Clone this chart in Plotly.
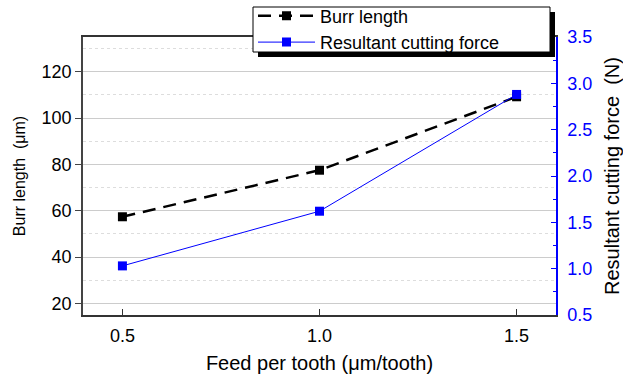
import plotly.graph_objects as go

# Feed per tooth (µm/tooth)
feed = [0.5, 1.0, 1.5]
# Burr length (µm)
burr_length = [57.4, 77.5, 109.2]
# Resultant cutting force (N)
cutting_force = [1.03, 1.62, 2.88]

x_ticks = [0.5, 1.0, 1.5]
y_ticks = [20, 40, 60, 80, 100, 120]
y2_ticks = [0.5, 1.0, 1.5, 2.0, 2.5, 3.0, 3.5]

FONT = "Liberation Sans, Arial, sans-serif"
W, H = 623, 374
L, R, T, B = 83, 67, 37, 59

fig = go.Figure()
fig.add_trace(go.Scatter(
    x=feed, y=burr_length, name="Burr length", mode="lines+markers",
    line=dict(color="black", width=2.5, dash="13px,8px"),
    marker=dict(symbol="square", size=9, color="black"),
))
fig.add_trace(go.Scatter(
    x=feed, y=cutting_force, name="Resultant cutting force", mode="lines+markers",
    yaxis="y2",
    line=dict(color="#0000ff", width=1),
    marker=dict(symbol="square", size=9, color="#0000ff"),
))

# pixel -> paper helpers for the legend frame
pw, ph = W - L - R, H - T - B
def px(xp):
    return (xp - L) / pw
def py(yp):
    return (H - B - yp) / ph

# legend frame (white box with a drop shadow)
bx0, by0, bx1, by1 = 253, 7, 550, 52
shadow = 5

fig.update_layout(
    width=W, height=H,
    margin=dict(l=L, r=R, t=T, b=B, autoexpand=False),
    paper_bgcolor="white", plot_bgcolor="white",
    font=dict(family=FONT, color="black"),
    showlegend=True,
    legend=dict(
        x=px(bx0), y=py(29), xanchor="left", yanchor="middle",
        bgcolor="rgba(0,0,0,0)", borderwidth=0,
        font=dict(size=18, family=FONT), itemwidth=57,
        tracegroupgap=0,
    ),
    xaxis=dict(
        range=[0.4, 1.6], tickvals=x_ticks, ticktext=["0.5", "1.0", "1.5"],
        showgrid=False, zeroline=False,
        showline=True, linecolor="#333333", linewidth=1.5, mirror=True,
        ticks="inside", ticklen=6, tickcolor="#333333",
        tickfont=dict(size=18), ticklabelstandoff=4,
        title=dict(text="Feed per tooth (μm/tooth)", font=dict(size=20), standoff=18),
    ),
    yaxis=dict(
        range=[15, 135], tickvals=y_ticks,
        showgrid=True, gridcolor="#cccccc", gridwidth=1,
        zeroline=False,
        showline=True, linecolor="#444444", linewidth=1.5,
        ticks="outside", ticklen=6, tickcolor="#444444",
        tickfont=dict(size=18),
        minor=dict(dtick=10, tick0=10, showgrid=True, gridcolor="#dddddd",
                   griddash="dot", gridwidth=1, ticks=""),
        title=dict(text="Burr length  (μm)", font=dict(size=16), standoff=12),
    ),
    yaxis2=dict(
        overlaying="y", side="right",
        range=[0.5, 3.5], tickvals=y2_ticks,
        tickformat=".1f",
        showgrid=False, zeroline=False,
        showline=True, linecolor="#0000ff", linewidth=1.5,
        ticks="inside", ticklen=5, tickcolor="#0000ff",
        tickfont=dict(size=18, color="#0000ff"),
        ticklabelstandoff=6,
        minor=dict(dtick=0.25, tick0=0.5, ticks="inside", ticklen=3, tickcolor="#0000ff"),
        title=dict(text="Resultant cutting force  (N)", font=dict(size=20, color="black"),
                   standoff=18),
    ),
    shapes=[
        dict(type="rect", xref="paper", yref="paper",
             x0=px(bx0 + shadow), y0=py(by0 + shadow), x1=px(bx1 + shadow), y1=py(by1 + shadow),
             fillcolor="black", line=dict(width=0), layer="above"),
        dict(type="rect", xref="paper", yref="paper",
             x0=px(bx0), y0=py(by0), x1=px(bx1), y1=py(by1),
             fillcolor="white", line=dict(color="black", width=1), layer="above"),
    ],
)

fig.write_html("out.html")
